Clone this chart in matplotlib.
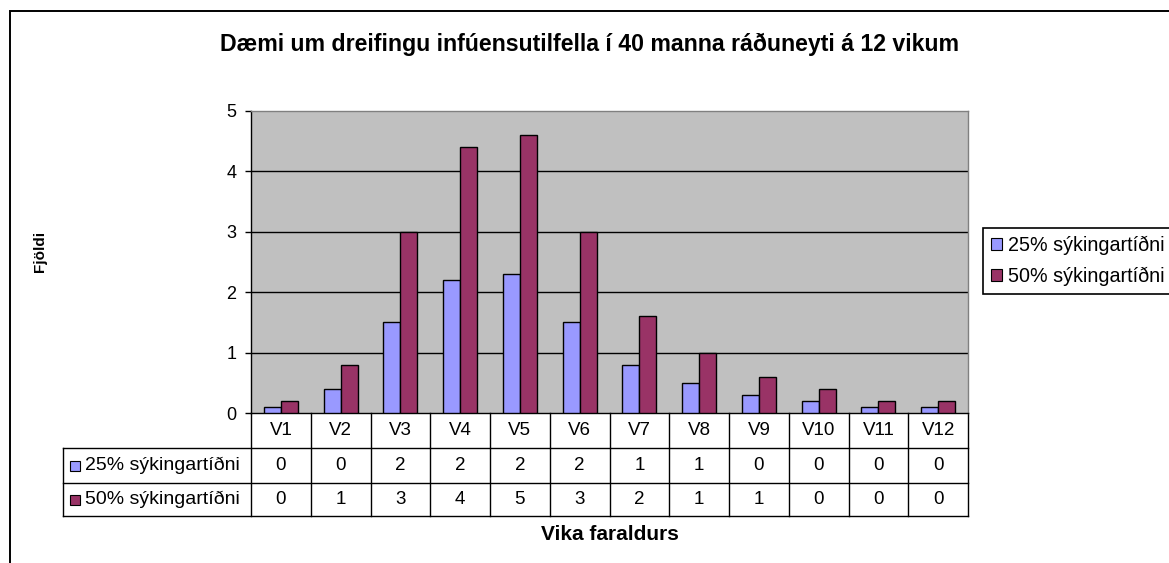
import numpy as np
import matplotlib
matplotlib.use('Agg')
import matplotlib.pyplot as plt
from matplotlib import transforms
from matplotlib.patches import Rectangle
from matplotlib.lines import Line2D

# ---- data ----
weeks = ['V1', 'V2', 'V3', 'V4', 'V5', 'V6', 'V7', 'V8', 'V9', 'V10', 'V11', 'V12']
rate25 = [0.1, 0.4, 1.5, 2.2, 2.3, 1.5, 0.8, 0.5, 0.3, 0.2, 0.1, 0.1]
rate50 = [0.2, 0.8, 3.0, 4.4, 4.6, 3.0, 1.6, 1.0, 0.6, 0.4, 0.2, 0.2]
table25 = [0, 0, 2, 2, 2, 2, 1, 1, 0, 0, 0, 0]
table50 = [0, 1, 3, 4, 5, 3, 2, 1, 1, 0, 0, 0]
series_names = ['25% sýkingartíðni', '50% sýkingartíðni']
yticks = [0, 1, 2, 3, 4, 5]
title = 'Dæmi um dreifingu infúensutilfella í 40 manna ráðuneyti á 12 vikum'
xlabel = 'Vika faraldurs'
ylabel = 'Fjöldi'

c25 = '#9999FF'
c50 = '#993366'

plt.rcParams['font.family'] = ['Liberation Sans', 'DejaVu Sans']

W, H = 1169, 563
fig = plt.figure(figsize=(W / 100, H / 100), dpi=100)

def fx(px):
    return px / W

def fy(py):
    return 1 - py / H

# outer frame (extends beyond the right/bottom edges)
fig.patches.append(Rectangle((fx(10), -0.2), 1.5, fy(11) + 0.2, transform=fig.transFigure,
                             fill=False, edgecolor='black', linewidth=1.4, zorder=0))

ax_l, ax_r, ax_t, ax_b = 251, 968, 111, 413
ax = fig.add_axes([fx(ax_l), fy(ax_b), fx(ax_r - ax_l), (ax_b - ax_t) / H])
ax.set_facecolor('#C0C0C0')

x = np.arange(len(weeks))
w = 0.285
ax.bar(x - w / 2, rate25, width=w, color=c25, edgecolor='black', linewidth=1.0, zorder=3)
ax.bar(x + w / 2, rate50, width=w, color=c50, edgecolor='black', linewidth=1.0, zorder=3)

ax.set_xlim(-0.5, len(weeks) - 0.5)
ax.set_ylim(0, 5)
ax.set_yticks(yticks)
ax.set_yticklabels([str(t) for t in yticks], fontsize=13)
ax.set_xticks([])
ax.tick_params(axis='y', direction='out', length=4.5, width=1, pad=6, colors='black')
for t in yticks[1:-1]:
    ax.axhline(t, color='black', linewidth=1.0, zorder=1)
ax.spines['left'].set_color('black')
ax.spines['bottom'].set_color('black')
ax.spines['top'].set_color('#808080')
ax.spines['right'].set_color('#808080')
for s in ax.spines.values():
    s.set_linewidth(1.0)

# ---- data table under the axis ----
tr = transforms.blended_transform_factory(ax.transData, fig.transFigure)
rows_px = [413, 448, 483, 516]
lab_left = 63
lw_t = 1.0
for py in rows_px[1:]:
    fig.add_artist(Line2D([fx(lab_left), fx(ax_r)], [fy(py), fy(py)], transform=fig.transFigure,
                          color='black', linewidth=lw_t))
fig.add_artist(Line2D([fx(lab_left), fx(lab_left)], [fy(rows_px[1]), fy(rows_px[3])],
                      transform=fig.transFigure, color='black', linewidth=lw_t))
for i in range(len(weeks) + 1):
    ax.add_artist(Line2D([i - 0.5, i - 0.5], [fy(rows_px[0]), fy(rows_px[3])], transform=tr,
                         color='black', linewidth=lw_t, clip_on=False))

fs_t = 13.5
for i, wk in enumerate(weeks):
    ax.text(i, fy((rows_px[0] + rows_px[1]) / 2), wk, transform=tr, ha='center', va='center',
            fontsize=fs_t, clip_on=False)
    ax.text(i, fy((rows_px[1] + rows_px[2]) / 2), str(table25[i]), transform=tr, ha='center',
            va='center', fontsize=fs_t, clip_on=False)
    ax.text(i, fy((rows_px[2] + rows_px[3]) / 2), str(table50[i]), transform=tr, ha='center',
            va='center', fontsize=fs_t, clip_on=False)

for k, (name, col) in enumerate(zip(series_names, [c25, c50])):
    cy = (rows_px[1 + k] + rows_px[2 + k]) / 2
    fig.patches.append(Rectangle((fx(70), fy(cy + 5)), fx(10), 10 / H, transform=fig.transFigure,
                                 facecolor=col, edgecolor='black', linewidth=0.8))
    fig.text(fx(85), fy(cy), name, ha='left', va='center', fontsize=14)

# ---- titles ----
fig.text(fx(590), fy(44), title, ha='center', va='center', fontsize=16.7, fontweight='bold')
fig.text(fx((ax_l + ax_r) / 2), fy(535), xlabel, ha='center', va='center', fontsize=15,
         fontweight='bold')
fig.text(fx(40), fy(251), ylabel, ha='center', va='center', fontsize=11, fontweight='bold',
         rotation=90)

# ---- legend ----
handles = [Rectangle((0, 0), 1, 1, facecolor=c25, edgecolor='black', linewidth=0.8),
           Rectangle((0, 0), 1, 1, facecolor=c50, edgecolor='black', linewidth=0.8)]
leg = fig.legend(handles, series_names, loc='upper left', bbox_to_anchor=(fx(983), fy(228)),
                 frameon=True, fancybox=False, framealpha=1, edgecolor='black',
                 fontsize=14.2, handlelength=0.55, handleheight=0.55, handletextpad=0.3,
                 labelspacing=0.6, borderpad=0.4, borderaxespad=0)
leg.get_frame().set_linewidth(1.2)

fig.savefig('out.png', dpi=100)
